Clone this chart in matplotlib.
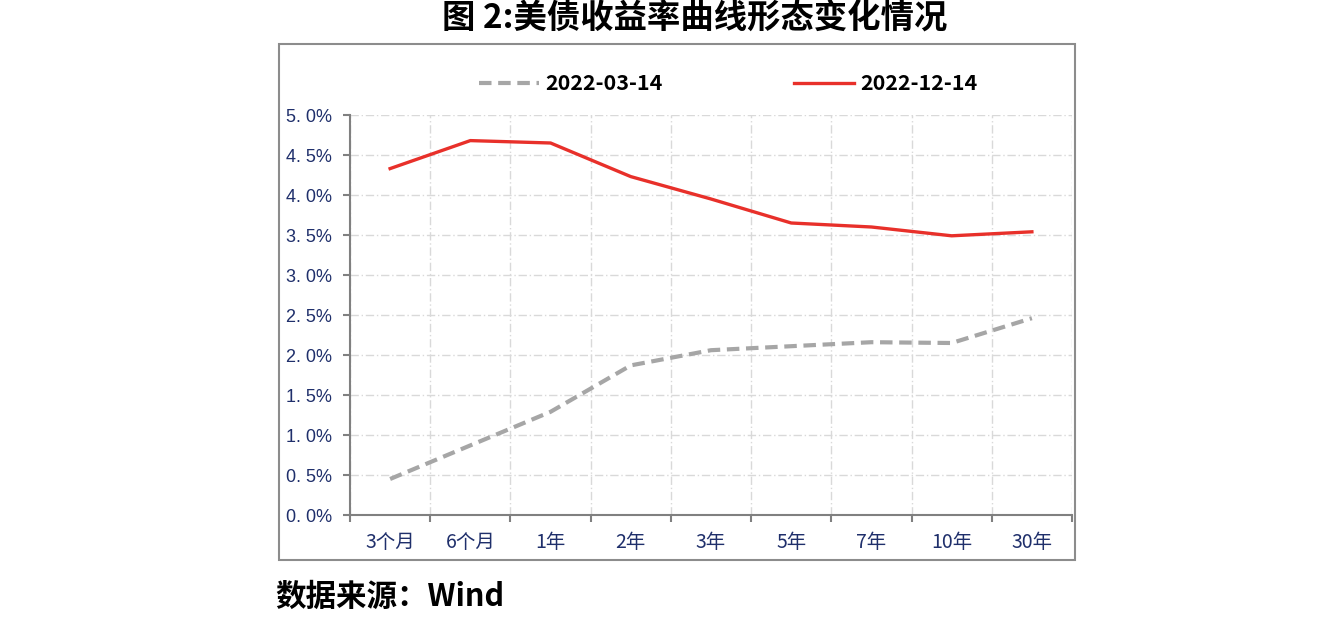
import matplotlib.pyplot as plt
import numpy as np
from matplotlib.patches import Rectangle

plt.rcParams['font.family'] = ['Noto Sans CJK SC', 'DejaVu Sans']

tenors = ["3个月", "6个月", "1年", "2年", "3年", "5年", "7年", "10年", "30年"]
yield_0314 = [0.45, 0.87, 1.29, 1.87, 2.06, 2.11, 2.16, 2.15, 2.46]
yield_1214 = [4.33, 4.68, 4.65, 4.23, 3.95, 3.65, 3.60, 3.49, 3.54]
ytick_vals = [0.0, 0.5, 1.0, 1.5, 2.0, 2.5, 3.0, 3.5, 4.0, 4.5, 5.0]
ytick_labels = ["0. 0%", "0. 5%", "1. 0%", "1. 5%", "2. 0%", "2. 5%",
                "3. 0%", "3. 5%", "4. 0%", "4. 5%", "5. 0%"]

navy = "#1F2F6B"
axis_grey = "#808080"


def main():
    fig = plt.figure(figsize=(13.44, 6.26), dpi=100)

    # outer frame around chart
    fig.patches.append(Rectangle((279 / 1344, 1 - 560 / 626), (1075 - 279) / 1344, (560 - 44) / 626,
                                 transform=fig.transFigure, fill=False,
                                 edgecolor="#8C8C8C", linewidth=1.5))

    ax = fig.add_axes([350 / 1344, 1 - 515 / 626, (1072 - 350) / 1344, 400 / 626])
    x = np.arange(len(tenors))

    ax.plot(x, yield_0314, color="#A6A6A6", linewidth=3.0, linestyle=(0, (3, 1.6)),
            label="2022-03-14")
    ax.plot(x, yield_1214, color="#E8302A", linewidth=2.4, label="2022-12-14")

    ax.set_xlim(-0.5, len(tenors) - 0.5)
    ax.set_ylim(0, 5.0)

    ax.set_yticks(ytick_vals)
    ax.set_yticklabels(ytick_labels, color=navy, fontsize=13, family=['Liberation Sans', 'DejaVu Sans'])
    ax.set_xticks(np.arange(-0.5, len(tenors)))
    ax.set_xticklabels([])
    ax.set_xticks(x, minor=True)
    ax.set_xticklabels(tenors, minor=True, color=navy, fontsize=14)
    ax.tick_params(axis="x", which="minor", length=0, pad=12)
    ax.tick_params(axis="x", which="major", length=5, color=axis_grey, width=1.5)
    ax.tick_params(axis="y", length=5, color=axis_grey, width=1.5, pad=8)

    ax.grid(True, which="major", color="#D9D9D9", linestyle=(0, (6, 2, 1, 2)), linewidth=1)
    ax.set_axisbelow(True)

    for side in ["top", "right"]:
        ax.spines[side].set_visible(False)
    for side in ["left", "bottom"]:
        ax.spines[side].set_color(axis_grey)
        ax.spines[side].set_linewidth(1.5)

    leg = ax.legend(loc="center", bbox_to_anchor=(0.524, 1.078), ncol=2, frameon=False,
                    fontsize=15.5, handlelength=2.8, columnspacing=6.1, handletextpad=0.3)
    for t in leg.get_texts():
        t.set_fontweight("bold")

    fig.text(695 / 1344, 1 - 19 / 626, "图 2:美债收益率曲线形态变化情况", ha="center", va="center",
             fontsize=24, fontweight="bold")
    fig.text(275 / 1344, 1 - 597 / 626, "数据来源：Wind", ha="left", va="center",
             fontsize=22, fontweight="bold")

    fig.savefig("out.png", dpi=100)
    plt.close(fig)


if __name__ == "__main__":
    main()
